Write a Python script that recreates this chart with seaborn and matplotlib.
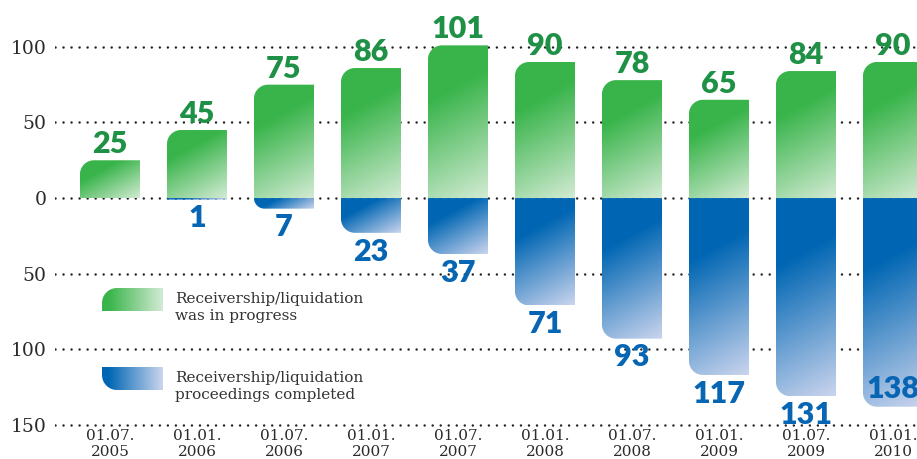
import numpy as np
import pandas as pd
import matplotlib
matplotlib.use('Agg')
import matplotlib.pyplot as plt
import seaborn as sns
from matplotlib.path import Path
from matplotlib.patches import PathPatch
from matplotlib.colors import to_rgb

# data
dates = ['01.07.\n2005', '01.01.\n2006', '01.07.\n2006', '01.01.\n2007', '01.07.\n2007',
         '01.01.\n2008', '01.07.\n2008', '01.01.\n2009', '01.07.\n2009', '01.01.\n2010']
in_progress = [25, 45, 75, 86, 101, 90, 78, 65, 84, 90]
completed = [0, 1, 7, 23, 37, 71, 93, 117, 131, 138]
legend_labels = ['Receivership/liquidation\nwas in progress',
                 'Receivership/liquidation\nproceedings completed']
y_ticks = [-150, -100, -50, 0, 50, 100]

GREEN, GREEN_LIGHT, GREEN_TEXT = '#38b44a', '#d3ebd4', '#1f9146'
BLUE, BLUE_LIGHT, BLUE_TEXT = '#0066b3', '#cbd5ee', '#0766b4'

W, H, DPI = 917, 459, 100
X_LIM = (-0.632, 9.276)
Y_LIM = (-153, 131)
AX_LEFT, AX_BOTTOM_FROM_TOP = 55, 429.4
RADIUS = 14

sns.set_style('white')
plt.rcParams['font.family'] = ['DejaVu Serif']

fig = plt.figure(figsize=(W / DPI, H / DPI), dpi=DPI)
ax = fig.add_axes([AX_LEFT / W, (H - AX_BOTTOM_FROM_TOP) / H,
                   (W - AX_LEFT) / W, AX_BOTTOM_FROM_TOP / H])

df = pd.DataFrame({'date': dates, 'in_progress': in_progress,
                   'completed': [-v for v in completed]})
sns.barplot(data=df, x='date', y='in_progress', color=GREEN, width=0.69,
            errorbar=None, ax=ax)
n = len(ax.patches)
sns.barplot(data=df, x='date', y='completed', color=BLUE, width=0.69,
            errorbar=None, ax=ax)
green_bars = list(ax.patches)[:n]
blue_bars = list(ax.patches)[n:]

px_x = (W - AX_LEFT) / (X_LIM[1] - X_LIM[0])
px_y = AX_BOTTOM_FROM_TOP / (Y_LIM[1] - Y_LIM[0])


def gradient(c0, c1, w_px, h_px, flat=0.3, slope=0.55):
    nx, ny = max(int(w_px), 2), max(int(h_px), 2)
    xx, yy = np.meshgrid(np.linspace(0, w_px, nx), np.linspace(0, h_px, ny))
    t = (slope * xx + yy) / (slope * w_px + h_px)
    t = np.clip((t - flat) / (1 - flat), 0, 1)
    c0, c1 = np.array(to_rgb(c0)), np.array(to_rgb(c1))
    return c0 + t[..., None] * (c1 - c0)


def rounded_path(x0, x1, y0, y1, rx, ry, top):
    if top:  # top-left corner rounded
        a = np.linspace(np.pi, np.pi / 2, 16)
        cx, cy = x0 + rx, y1 - ry
        arc = np.column_stack([cx + rx * np.cos(a), cy + ry * np.sin(a)])
        verts = [(x0, y0)] + arc.tolist() + [(x1, y1), (x1, y0), (x0, y0)]
    else:  # bottom-left corner rounded
        a = np.linspace(1.5 * np.pi, np.pi, 16)
        cx, cy = x0 + rx, y0 + ry
        arc = np.column_stack([cx + rx * np.cos(a), cy + ry * np.sin(a)])
        verts = [(x0, y1), (x1, y1), (x1, y0)] + arc.tolist() + [(x0, y1)]
    return Path(verts)


def draw_bar(p, c0, c1, top):
    b = p.get_bbox()
    x0, x1 = sorted([b.x0, b.x1])
    y0, y1 = sorted([b.y0, b.y1])
    p.set_visible(False)
    w_px, h_px = (x1 - x0) * px_x, (y1 - y0) * px_y
    if h_px <= 0:
        return
    r = min(RADIUS, h_px, w_px / 2)
    clip = PathPatch(rounded_path(x0, x1, y0, y1, r / px_x, r / px_y, top),
                     transform=ax.transData, facecolor='none', lw=0)
    ax.add_patch(clip)
    im = ax.imshow(gradient(c0, c1, w_px, h_px), extent=(x0, x1, y0, y1),
                   origin='upper', aspect='auto', interpolation='bilinear', zorder=2)
    im.set_clip_path(clip)


for p in green_bars:
    draw_bar(p, GREEN, GREEN_LIGHT, True)
for p in blue_bars:
    draw_bar(p, BLUE, BLUE_LIGHT, False)

lab_font = dict(family=['Lato', 'DejaVu Sans'], fontsize=22, fontweight='heavy')
for p, v in zip(green_bars, in_progress):
    cx = p.get_x() + p.get_width() / 2
    ax.annotate(str(v), (cx, p.get_height()), xytext=(0, 5), textcoords='offset points',
                ha='center', va='baseline', color=GREEN_TEXT, **lab_font)
for p, v in zip(blue_bars, completed):
    if v == 0:
        continue
    cx = p.get_x() + p.get_width() / 2
    bottom = p.get_height()
    # label below the bar, unless it would run into the date labels
    if (bottom - Y_LIM[0]) * px_y < 30:
        dy = 6.5
    else:
        dy = -20
    ax.annotate(str(v), (cx, bottom), xytext=(0, dy), textcoords='offset points',
                ha='center', va='baseline', color=BLUE_TEXT, zorder=3, **lab_font)

ax.set_xlim(*X_LIM)
ax.set_ylim(*Y_LIM)
ax.set_yticks(y_ticks)
ax.set_yticklabels([str(abs(v)) for v in y_ticks], fontsize=13.5, color='#2a2a2a')
ax.set_xticks(range(len(dates)))
ax.set_xticklabels(dates, fontsize=11, color='#2a2a2a', linespacing=1.15)
ax.tick_params(axis='y', length=0, pad=6)
ax.tick_params(axis='x', length=0, pad=0)
ax.set_xlabel('')
ax.set_ylabel('')
for s in ax.spines.values():
    s.set_visible(False)
ax.set_axisbelow(True)
ax.yaxis.grid(True, color='#222222', linewidth=1.8, linestyle=(0, (0.01, 3.2)),
              dash_capstyle='round')
ax.xaxis.grid(False)

# legend swatches
for (c0, c1), top, y_top, label in [((GREEN, GREEN_LIGHT), True, 288, legend_labels[0]),
                                    ((BLUE, BLUE_LIGHT), False, 367, legend_labels[1])]:
    sw, sh = 61, 23
    lax = fig.add_axes([102 / W, (H - y_top - sh) / H, sw / W, sh / H])
    lax.axis('off')
    g = np.linspace(0, 1, 100)
    img = np.array(to_rgb(c0)) + np.clip((g - 0.1) / 0.9, 0, 1)[None, :, None] * \
        (np.array(to_rgb(c1)) - np.array(to_rgb(c0)))
    img = np.repeat(img, 4, axis=0)
    clip = PathPatch(rounded_path(0, 1, 0, 1, 15 / sw, 15 / sh, top),
                     transform=lax.transAxes, facecolor='none', lw=0)
    lax.add_patch(clip)
    im = lax.imshow(img, extent=(0, 1, 0, 1), aspect='auto', interpolation='bilinear')
    im.set_clip_path(clip)
    lax.set_xlim(0, 1)
    lax.set_ylim(0, 1)
    fig.text(175 / W, (H - y_top - 32) / H, label, fontsize=11, color='#333333',
             va='baseline', ha='left', linespacing=1.3)

fig.savefig('out.png', dpi=DPI, facecolor='white')
